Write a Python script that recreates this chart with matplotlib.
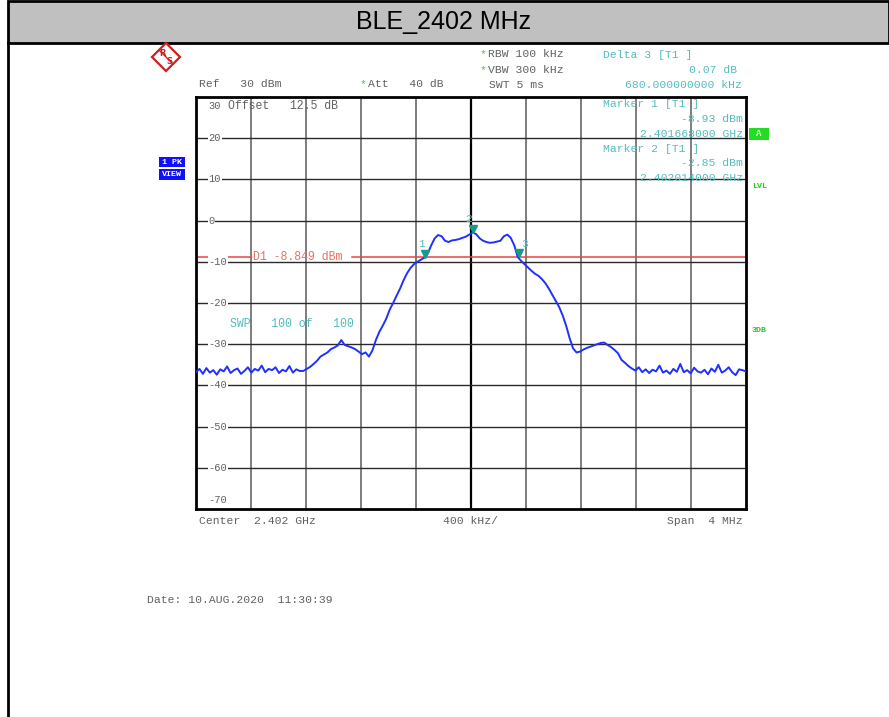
import numpy as np
import matplotlib
matplotlib.use('Agg')
import matplotlib.pyplot as plt
from matplotlib.patches import Rectangle, Polygon
from matplotlib.lines import Line2D

# spectrum analyzer screenshot, BLE channel at 2402 MHz

# trace levels (dBm), sweep points equally spaced across the span
noise_left = [-36.8, -36.0, -37.2, -35.8, -36.9, -36.3, -37.4, -36.1, -36.6, -35.4,
              -37.0, -36.3, -35.9, -37.2, -36.5, -35.6, -36.9, -36.0, -36.4, -35.2,
              -36.8, -36.0, -36.3, -35.6, -37.0, -36.2, -36.6, -35.3, -36.9, -36.1, -36.5]
shoulder_left = [-36.5, -36.0, -35.5, -34.8, -34.0, -33.0, -32.5, -32.0, -31.2, -30.8,
                 -30.3, -29.0, -30.2, -30.5, -30.8, -31.2, -31.8, -32.4, -32.0, -33.0, -31.5]
main_lobe = [-29.0, -27.0, -25.5, -23.8, -21.6, -20.0, -18.2, -16.5, -14.5, -12.8,
             -11.5, -10.6, -10.0, -9.5, -9.0, -8.0, -6.0, -4.3, -3.5, -3.8,
             -4.9, -5.2, -4.8, -4.7, -4.5, -4.2, -3.9, -3.4, -2.85, -3.3,
             -4.3, -4.9, -5.2, -5.4, -5.3, -5.1, -4.9, -3.8, -3.4, -4.2]
slope_right = [-6.0, -8.8, -9.8, -10.6, -11.4, -12.2, -12.9, -13.4, -14.2, -15.2,
               -16.5, -18.0, -19.5, -21.0, -23.0, -25.5, -28.5, -31.0, -32.0]
shoulder_right = [-31.8, -31.3, -30.9, -30.6, -30.3, -30.0, -29.7, -29.6, -30.2, -30.7,
                  -31.4, -32.2, -33.8, -34.5]
noise_right = [-35.3, -35.9, -36.4, -35.6, -36.8, -36.1, -37.0, -36.2, -36.6, -35.2,
               -36.9, -36.4, -37.2, -36.0, -36.7, -34.8, -36.8, -36.3, -37.1, -35.7,
               -36.6, -36.9, -36.2, -37.3, -35.9, -36.7, -35.0, -36.9, -36.4, -35.6,
               -36.8, -37.5, -36.1, -36.3, -36.6]

center = 2.402   # GHz
span = 0.004     # GHz
ref_level = 30
y_bottom = -70

marker_names = ['1', '2', '3']
marker_freq = [2.401668, 2.402014, 2.402348]
marker_level = [-8.93, -2.85, -8.86]
display_line = -8.849

y_ticks = [30, 20, 10, 0, -10, -20, -30, -40, -50, -60, -70]

levels = np.array(noise_left + shoulder_left + main_lobe + slope_right + shoulder_right + noise_right)
freq = center - span / 2 + span * np.arange(len(levels)) / (len(levels) - 1)

W, H = 889, 717
MONO = 'Liberation Mono'
GRAY = '#606060'
TEAL = '#55bcbc'
GREEN = '#22dd22'

fig = plt.figure(figsize=(W / 100, H / 100), dpi=100)


def ftext(x, y, s, color=GRAY, size=8.2, ha='left', family=MONO, **kw):
    # x, y in pixels from top-left
    return fig.text(x / W, 1 - y / H, s, color=color, fontsize=size, ha=ha,
                    va='center', family=family, **kw)


def fline(xs, ys, **kw):
    fig.add_artist(Line2D([x / W for x in xs], [1 - y / H for y in ys],
                          transform=fig.transFigure, **kw))


# header band
fig.add_artist(Rectangle((8 / W, 1 - 43 / H), (W - 8) / W, 42 / H, transform=fig.transFigure,
                         facecolor='#c0c0c0', edgecolor='black', lw=2))
fline([8, 8], [43, H], color='black', lw=2)
ftext(444, 22, 'BLE_2402 MHz', color='black', size=18, ha='center', family='Liberation Sans')

# plot area
ax = fig.add_axes([196 / W, 1 - 509 / H, 550 / W, 412 / H])
ax.set_xlim(center - span / 2, center + span / 2)
ax.set_ylim(y_bottom, ref_level)
ax.set_xticks([])
ax.set_yticks([])
for sp in ax.spines.values():
    sp.set_linewidth(2)
    sp.set_color('black')

for k in range(1, 10):
    xv = center - span / 2 + span * k / 10
    if k == 5:
        ax.axvline(xv, color='black', lw=1.6, zorder=1)
    else:
        ax.axvline(xv, color='#5a5a5a', lw=1.1, zorder=1)
for yv in y_ticks[1:-1]:
    ax.axhline(yv, color='#2a2a2a', lw=1.0, zorder=1)

# level labels sitting on the grid lines
for yv in y_ticks:
    yy = yv
    va = 'center'
    if yv == ref_level:
        yy, va = yv - 1.0, 'top'
    if yv == y_bottom:
        yy, va = yv + 1.0, 'bottom'
    ax.text(center - span / 2 + 0.00009, yy, str(yv), color=GRAY,
            fontsize=7.5, family=MONO, va=va, ha='left', zorder=3,
            bbox=dict(facecolor='white', edgecolor='none', pad=0.6))

# display line D1 with gap for the label
x0 = center - span / 2
ax.plot([x0, x0 + span * 55 / 550], [display_line] * 2, color='#e8473c', lw=1.1, zorder=2)
ax.plot([x0 + span * 156 / 550, x0 + span], [display_line] * 2, color='#e8473c', lw=1.1, zorder=2)
ax.text(x0 + span * 57 / 550, display_line, 'D1 -8.849 dBm', color='#e87060',
        fontsize=8.3, family=MONO, va='center', ha='left', zorder=3)

# trace
ax.plot(freq, levels, color='#1f30ff', lw=1.4, zorder=4)

# markers
for name, mf, ml in zip(marker_names, marker_freq, marker_level):
    ax.plot(mf, ml + 0.9, marker='v', color='#1a9a8a', markersize=6, zorder=5)
    dx = 0.00004 if name == '3' else -0.00003
    ax.text(mf + dx, ml + 3.2, name, color=TEAL, fontsize=8, family=MONO,
            ha='center', va='center', zorder=5)

ax.text(x0 + span * 34 / 550, -25.0, 'SWP   100 of   100', color=TEAL, fontsize=8.3,
        family=MONO, va='center', ha='left', zorder=3)
ax.text(x0 + span * 32 / 550, 27.9, 'Offset   12.5 dB', color=GRAY, fontsize=8.3,
        family=MONO, va='center', ha='left', zorder=3)

# instrument settings above the plot
ftext(199, 84, 'Ref   30 dBm')
ftext(360, 84, '*', color=GREEN)
ftext(368, 84, 'Att   40 dB')
ftext(480, 54, '*', color=GREEN)
ftext(488, 54, 'RBW 100 kHz')
ftext(480, 70, '*', color=GREEN)
ftext(488, 70, 'VBW 300 kHz')
ftext(489, 85, 'SWT 5 ms')

# marker readout
ftext(603, 55, 'Delta 3 [T1 ]', color=TEAL)
ftext(737, 70, '0.07 dB', color=TEAL, ha='right')
ftext(742, 85, '680.000000000 kHz', color=TEAL, ha='right')
ftext(603, 104, 'Marker 1 [T1 ]', color=TEAL)
ftext(743, 119, '-8.93 dBm', color=TEAL, ha='right')
ftext(743, 134, '2.401668000 GHz', color=TEAL, ha='right')
ftext(603, 149, 'Marker 2 [T1 ]', color=TEAL)
ftext(743, 163, '-2.85 dBm', color=TEAL, ha='right')
ftext(743, 178, '2.402014000 GHz', color=TEAL, ha='right')

# side labels
fig.add_artist(Rectangle((159 / W, 1 - 167 / H), 26 / W, 10 / H, transform=fig.transFigure,
                         facecolor='#1010ff', edgecolor='none'))
fig.add_artist(Rectangle((159 / W, 1 - 180 / H), 26 / W, 11 / H, transform=fig.transFigure,
                         facecolor='#1010ff', edgecolor='none'))
ftext(172, 162, '1 PK', color='white', size=6, ha='center', fontweight='bold')
ftext(172, 175, 'VIEW', color='white', size=6, ha='center', fontweight='bold')
fig.add_artist(Rectangle((749 / W, 1 - 140 / H), 20 / W, 12 / H, transform=fig.transFigure,
                         facecolor=GREEN, edgecolor='none'))
ftext(759, 134, 'A', color='white', size=6.5, ha='center', fontweight='bold')
ftext(752, 186, 'LVL', color='#22cc22', size=6, fontweight='bold')
ftext(752, 330, '3DB', color='#22cc22', size=6, fontweight='bold')

# bottom annotations
ftext(199, 521, 'Center  2.402 GHz')
ftext(443, 521, '400 kHz/')
ftext(743, 521, 'Span  4 MHz', ha='right')
ftext(147, 600, 'Date: 10.AUG.2020  11:30:39')

# R&S logo
cx, cy, r = 166, 57, 14
fig.add_artist(Polygon([((cx - r) / W, 1 - cy / H), (cx / W, 1 - (cy - r) / H),
                        ((cx + r) / W, 1 - cy / H), (cx / W, 1 - (cy + r) / H)],
                       closed=True, transform=fig.transFigure, facecolor='white',
                       edgecolor='#cc2222', lw=1.6))
fline([cx - 7, cx + 7], [cy - 7, cy + 7], color='#cc2222', lw=1.0)
ftext(cx - 3, cy - 4, 'R', color='#cc2222', size=6, ha='center', family='DejaVu Sans',
      fontweight='bold')
ftext(cx + 3, cy + 5, 'S', color='#cc2222', size=6, ha='center', family='DejaVu Sans',
      fontweight='bold')

fig.savefig('out.png', dpi=100)
